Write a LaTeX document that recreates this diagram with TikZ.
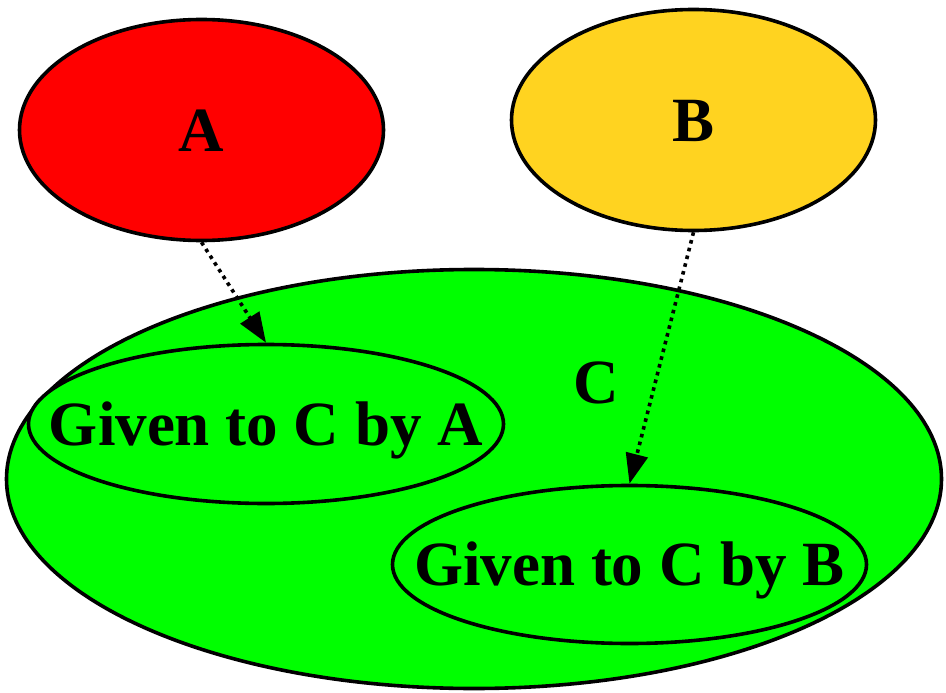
\documentclass[tikz,border=0pt]{standalone}
\usepackage{fontspec}
\setmainfont{Liberation Serif}
\usetikzlibrary{shapes.geometric,arrows.meta}
\definecolor{cred}{HTML}{FF0000}
\definecolor{cgold}{HTML}{FFD320}
\definecolor{cgreen}{HTML}{00FF00}
\begin{document}
\begin{tikzpicture}[x=1pt,y=-1pt,
  ell/.style={shape=ellipse, draw=black, line width=3.6pt, inner sep=0pt},
  lbl/.style={inner sep=0pt, font=\fontsize{63}{70}\selectfont\bfseries, text height=42pt, text depth=0pt},
  giv/.style={black, line width=3.6pt, dash pattern=on 3.6pt off 4.4pt,
    -{Triangle[length=30pt,width=22pt]}}]
\useasboundingbox (0,0) rectangle (946,693);
\node[ell, fill=cgreen, minimum width=935pt, minimum height=419pt] (C) at (474,479) {};
\node[lbl] (Ctext) at (596,382) {C};
\node[ell, fill=cgreen, minimum width=475pt, minimum height=159pt] (GA) at (266,424) {};
\node[lbl] (GAtext) at (GA.center) {Given to C by A};
\node[ell, fill=cgreen, minimum width=474pt, minimum height=158pt] (GB) at (629.5,564.5) {};
\node[lbl] (GBtext) at (GB.center) {Given to C by B};
\node[ell, fill=cred, minimum width=364pt, minimum height=221pt] (A) at (201.5,130) {};
\node[lbl] (Atext) at (A.center) {A};
\node[ell, fill=cgold, minimum width=364pt, minimum height=221pt] (B) at (693.5,120) {};
\node[lbl] (Btext) at (B.center) {B};
\draw[giv] (A.south) -- (GA.north);
\draw[giv] (B.south) -- (GB.north);
\end{tikzpicture}
\end{document}
